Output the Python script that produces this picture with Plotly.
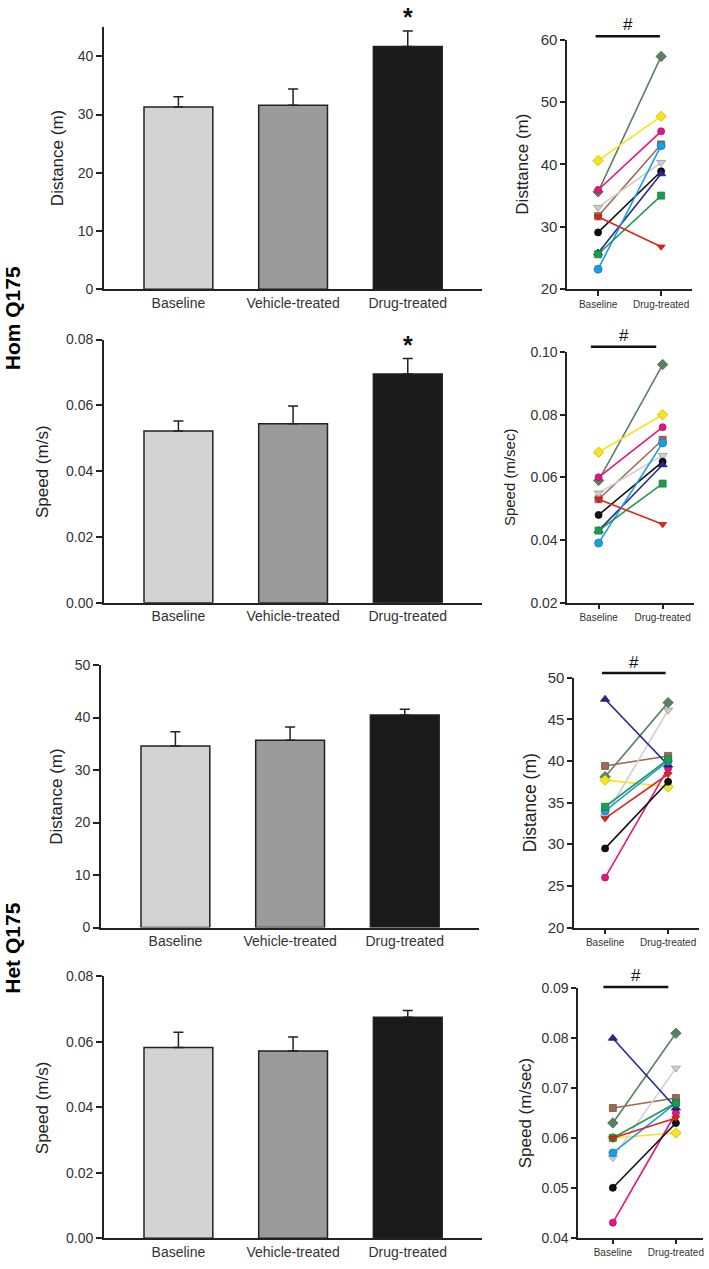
import plotly.graph_objects as go

# ---------------- data ----------------
bar_categories = ["Baseline", "Vehicle-treated", "Drug-treated"]
pair_categories = ["Baseline", "Drug-treated"]

hom_dist_mean = [31.3, 31.6, 41.7]
hom_dist_sem = [1.75, 2.8, 2.65]
hom_speed_mean = [0.0522, 0.0544, 0.0695]
hom_speed_sem = [0.0030, 0.0054, 0.0047]
het_dist_mean = [34.6, 35.7, 40.5]
het_dist_sem = [2.7, 2.5, 1.1]
het_speed_mean = [0.0582, 0.0572, 0.0675]
het_speed_sem = [0.0047, 0.0042, 0.0020]

# individual animals (10 per genotype): baseline / drug-treated
hom_dist_base = [35.6, 40.6, 35.9, 31.7, 33.1, 29.1, 25.8, 23.2, 25.6, 31.6]
hom_dist_drug = [57.3, 47.7, 45.3, 43.2, 40.3, 38.9, 38.5, 43.0, 35.0, 26.8]
hom_speed_base = [0.059, 0.068, 0.060, 0.053, 0.055, 0.048, 0.043, 0.039, 0.043, 0.053]
hom_speed_drug = [0.096, 0.080, 0.076, 0.072, 0.067, 0.065, 0.064, 0.071, 0.058, 0.045]
het_dist_base = [38.1, 37.7, 26.0, 39.4, 33.3, 29.5, 47.4, 34.0, 34.5, 33.1]
het_dist_drug = [47.0, 36.9, 39.1, 40.6, 46.1, 37.5, 39.5, 40.0, 40.2, 38.4]
het_speed_base = [0.063, 0.060, 0.043, 0.066, 0.056, 0.050, 0.080, 0.057, 0.060, 0.060]
het_speed_drug = [0.081, 0.061, 0.065, 0.068, 0.074, 0.063, 0.066, 0.067, 0.067, 0.064]

animal_colors = ["#5b7f62", "#f5e51c", "#e3157f", "#9c6a52", "#cfcfcf",
                 "#111111", "#28288a", "#1b9de2", "#1e9b4f", "#e0241b"]
animal_edges = ["#456a4c", "#c9b800", "#b80f66", "#7a5040", "#9a9a9a",
                "#000000", "#1a1a6a", "#1580ba", "#16803f", "#b81a14"]
animal_symbols = ["diamond", "diamond", "circle", "square", "triangle-down",
                  "circle", "triangle-up", "circle", "square", "triangle-down"]
animal_sizes = [8, 8, 7, 7, 8, 7, 8, 8, 7, 7]

bar_fill = ["#d3d3d3", "#9b9b9b", "#1a1a1a"]

# ---------------- layout helpers ----------------
W, H = 709, 1269
FONT = "Liberation Sans, Arial, sans-serif"


def fx(px):
    return px / W


def fy(py):
    return 1 - py / H


fig = go.Figure()

panels = {
    1: dict(xd=(104, 483), yd=(18.5, 284), yr=[0, 45], dt=10, fmt=None),
    2: dict(xd=(568, 693), yd=(31, 284), yr=[20, 60], dt=10, fmt=None),
    3: dict(xd=(104, 483), yd=(335, 601.7), yr=[0, 0.08], dt=0.02, fmt=".2f"),
    4: dict(xd=(568, 695), yd=(347.7, 601.7), yr=[0.02, 0.10], dt=0.02, fmt=".2f"),
    5: dict(xd=(101, 480), yd=(665, 931), yr=[0, 50], dt=10, fmt=None),
    6: dict(xd=(575, 700), yd=(677.7, 931), yr=[20, 50], dt=5, fmt=None),
    7: dict(xd=(104, 483), yd=(980.3, 1246), yr=[0, 0.08], dt=0.02, fmt=".2f"),
    8: dict(xd=(579, 704), yd=(992.7, 1245.3), yr=[0.04, 0.09], dt=0.01, fmt=".2f"),
}
pair_ranges = {2: [-0.49, 1.49], 4: [-0.49, 1.49], 6: [-0.49, 1.49], 8: [-0.55, 1.43]}
pair_tickfont = {2: 15, 4: 14, 6: 15, 8: 14}

layout = dict(
    width=W, height=H, margin=dict(l=0, r=0, t=0, b=0),
    paper_bgcolor="white", plot_bgcolor="white", showlegend=False,
    font=dict(family=FONT, color="#222222"),
    annotations=[], shapes=[],
)

for k, p in panels.items():
    xs = "" if k == 1 else str(k)
    is_bar = k % 2 == 1
    xa = dict(
        domain=[fx(p["xd"][0]), fx(p["xd"][1])], anchor="y" + xs,
        showline=True, linecolor="#222222", linewidth=1.5,
        showgrid=False, zeroline=False, type="category", fixedrange=True,
    )
    if is_bar:
        xa.update(range=[-0.65, 2.65], ticks="", tickfont=dict(size=14, color="#333333"),
                  categoryorder="array", categoryarray=bar_categories)
    else:
        xa.update(range=pair_ranges[k], ticks="outside", ticklen=5, tickwidth=1.5,
                  tickcolor="#222222", tickfont=dict(size=10, color="#333333"),
                  categoryorder="array", categoryarray=pair_categories)
    ya = dict(
        domain=[fy(p["yd"][1]), fy(p["yd"][0])], anchor="x" + xs,
        range=p["yr"], dtick=p["dt"], tick0=0,
        showline=True, linecolor="#222222", linewidth=1.5,
        ticks="outside", ticklen=6 if is_bar else 5, tickwidth=1.5, tickcolor="#222222",
        tickfont=dict(size=14 if is_bar else pair_tickfont[k], color="#333333"),
        showgrid=False, zeroline=False, fixedrange=True,
    )
    if p["fmt"]:
        ya["tickformat"] = p["fmt"]
    layout["xaxis" + xs] = xa
    layout["yaxis" + xs] = ya

# ---------------- bar panels ----------------
bar_sets = {
    1: (hom_dist_mean, hom_dist_sem, True),
    3: (hom_speed_mean, hom_speed_sem, True),
    5: (het_dist_mean, het_dist_sem, False),
    7: (het_speed_mean, het_speed_sem, False),
}
for k, (m, s, star) in bar_sets.items():
    xs = "" if k == 1 else str(k)
    fig.add_trace(go.Bar(
        x=bar_categories, y=m, width=0.6,
        marker=dict(color=bar_fill, line=dict(color="#222222", width=1.5)),
        error_y=dict(type="data", symmetric=False, array=s, arrayminus=[0] * len(s),
                     color="#222222", thickness=1.5, width=5),
        xaxis="x" + xs, yaxis="y" + xs, hoverinfo="y",
    ))
    if star:
        layout["annotations"].append(dict(
            x=bar_categories[2], y=m[2] + s[2], xref="x" + xs, yref="y" + xs,
            text="<b>*</b>", showarrow=False, yanchor="bottom", yshift=-2,
            font=dict(size=25, color="#111111", family=FONT),
        ))

# ---------------- paired panels ----------------
pair_sets = {
    2: (hom_dist_base, hom_dist_drug),
    4: (hom_speed_base, hom_speed_drug),
    6: (het_dist_base, het_dist_drug),
    8: (het_speed_base, het_speed_drug),
}
for k, (b, d) in pair_sets.items():
    xs = str(k)
    for i in range(len(b)):
        fig.add_trace(go.Scatter(
            x=pair_categories, y=[b[i], d[i]], mode="lines+markers",
            line=dict(color=animal_colors[i], width=1.6),
            marker=dict(symbol=animal_symbols[i], size=animal_sizes[i],
                        color=animal_colors[i],
                        line=dict(color=animal_edges[i], width=0.8)),
            xaxis="x" + xs, yaxis="y" + xs, cliponaxis=False,
        ))

# significance bars (#): endpoints in category units, y in pixels
hash_bars = {
    2: (-0.04, 0.98, 27.7, 16),
    4: (-0.12, 0.90, 342.3, 331),
    6: (-0.05, 0.96, 673, 662),
    8: (-0.15, 0.88, 991.3, 980),
}
for k, (c0, c1, ly, ty) in hash_bars.items():
    r0, r1 = pair_ranges[k]
    f0 = (c0 - r0) / (r1 - r0)
    f1 = (c1 - r0) / (r1 - r0)
    layout["shapes"].append(dict(
        type="line", xref="x%d domain" % k, yref="paper",
        x0=f0, x1=f1, y0=fy(ly), y1=fy(ly),
        line=dict(color="#111111", width=2.5),
    ))
    layout["annotations"].append(dict(
        x=(f0 + f1) / 2, y=fy(ty), xref="x%d domain" % k, yref="paper",
        text="#", showarrow=False, xanchor="center", yanchor="middle",
        font=dict(size=17, color="#111111", family=FONT),
    ))

# ---------------- axis titles ----------------
y_titles = {
    1: ("Distance (m)", 57, 17),
    2: ("Disttance (m)", 523, 17),
    3: ("Speed (m/s)", 42, 17),
    4: ("Speed (m/sec)", 510.5, 15),
    5: ("Distance (m)", 56.5, 17),
    6: ("Distance (m)", 530.5, 17.5),
    7: ("Speed (m/s)", 42, 17),
    8: ("Speed (m/sec)", 526, 17),
}
for k, (t, px, size) in y_titles.items():
    p = panels[k]
    layout["annotations"].append(dict(
        x=fx(px), y=fy((p["yd"][0] + p["yd"][1]) / 2), xref="paper", yref="paper",
        text=t, textangle=-90, showarrow=False, xanchor="center", yanchor="middle",
        font=dict(size=size, color="#222222", family=FONT),
    ))

# ---------------- group labels ----------------
for label, py in [("Hom Q175", 313), ("Het Q175", 952)]:
    layout["annotations"].append(dict(
        x=fx(12.5), y=fy(py), xref="paper", yref="paper",
        text="<b>%s</b>" % label, textangle=-90, showarrow=False,
        xanchor="center", yanchor="middle",
        font=dict(size=21, color="#000000", family=FONT),
    ))

fig.update_layout(**layout)
fig.write_html(
    "out.html",
    config={"displayModeBar": False},
    post_script="document.body.style.margin='0';document.body.style.overflow='hidden';",
)
